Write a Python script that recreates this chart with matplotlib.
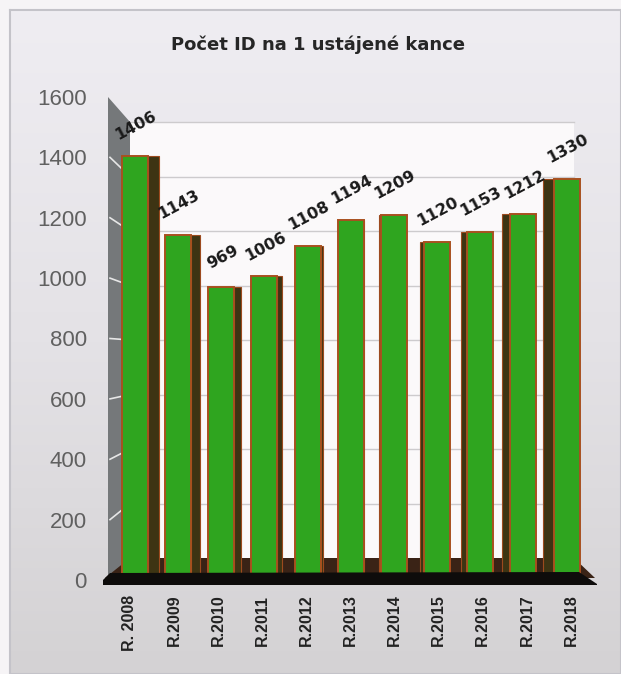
import numpy as np
import matplotlib.pyplot as plt
from matplotlib.colors import LinearSegmentedColormap
from matplotlib.patches import Polygon, Rectangle

# chart data
years = ['R. 2008', 'R.2009', 'R.2010', 'R.2011', 'R.2012', 'R.2013',
         'R.2014', 'R.2015', 'R.2016', 'R.2017', 'R.2018']
values = [1406, 1143, 969, 1006, 1108, 1194, 1209, 1120, 1153, 1212, 1330]
yticks = [0, 200, 400, 600, 800, 1000, 1200, 1400, 1600]
title = 'Počet ID na 1 ustájené kance'

W, H = 621, 674
# pixel layout of the pseudo 3d box
X0, DX = 135, 43.15            # centres of the bar faces
FX0, FDX = 130, 44.1           # category labels sit on the front edge
Y0, Y1 = 580, 97               # front scale, value 0 and 1600
BY0, BY1 = 558, 122            # back wall, value 0 and 1600
BACK_L, BACK_R = 130, 574
WALL_L = 108
VMAX = 1600


def front_y(v):
    return Y0 - (Y0 - Y1) * v / VMAX


def back_y(v):
    return BY0 - (BY0 - BY1) * v / VMAX


fig = plt.figure(figsize=(W / 100, H / 100), dpi=100)

# background layer in pixel coordinates
bg = fig.add_axes([0, 0, 1, 1], zorder=0)
bg.set_xlim(0, W)
bg.set_ylim(H, 0)
bg.axis('off')
bg.add_patch(Rectangle((0, 0), W, H, color='#f6f4f6'))
cm = LinearSegmentedColormap.from_list('bgfade', ['#efedf2', '#e4e2e6', '#d4d2d4'])
bg.imshow(np.linspace(0, 1, 200).reshape(-1, 1), cmap=cm, aspect='auto',
          extent=(10, W, H, 10), zorder=1)
bg.plot([10, W, W, 10, 10], [10, 10, H, H, 10], color='#c4c3c9', lw=1.5, zorder=2)

# back wall with its gridlines
bg.add_patch(Polygon([(BACK_L, BY1), (BACK_R, BY1), (BACK_R, BY0), (BACK_L, BY0)],
                     closed=True, facecolor='#fbf9fa', edgecolor='none', zorder=3))
for v in yticks[1:]:
    bg.plot([BACK_L, BACK_R], [back_y(v), back_y(v)], color='#cdcbcd', lw=1, zorder=4)

# left wall
bg.add_patch(Polygon([(WALL_L, Y1), (BACK_L, BY1), (BACK_L, BY0), (WALL_L, Y0)],
                     closed=True, facecolor='#75787a', edgecolor='none', zorder=3))
for v in yticks[1:-1]:
    bg.plot([WALL_L + 2, BACK_L], [front_y(v), back_y(v)], color='#e6e6e6', lw=1.2, zorder=4)

# floor
bg.add_patch(Polygon([(BACK_L, BY0), (BACK_R, BY0), (595, Y0 - 2), (105, Y0 - 2)],
                     closed=True, facecolor='#3a2316', edgecolor='none', zorder=3))

bg.text(318, 45, title, ha='center', va='center', fontsize=13,
        fontweight='bold', color='#262626', zorder=5)

# bars
ax = fig.add_axes([100 / W, (H - Y0) / H, 500 / W, (Y0 - Y1) / H], zorder=1)
ax.patch.set_alpha(0)
ax.set_xlim((100 - X0) / DX, (600 - X0) / DX)
ax.set_ylim(0, VMAX)
for s in ax.spines.values():
    s.set_visible(False)

x = np.arange(len(values))
face_w = 26 / DX
side_w = 2.2 * np.abs(x - 5.2) / DX
side_x = np.where(x < 5.2, x + face_w / 2 + side_w / 2, x - face_w / 2 - side_w / 2)
ax.bar(side_x, values, width=side_w, color='#3d3413', edgecolor='#9c4a1e',
       linewidth=0.8, zorder=2)
ax.bar(x, values, width=face_w, color='#2fa51f', edgecolor='#a8501f',
       linewidth=1.4, zorder=3)

for i, v in enumerate(values):
    ax.annotate(str(v), (i, v), xytext=(1, 30), textcoords='offset pixels',
                rotation=28, ha='center', va='center', fontsize=11.5,
                fontweight='bold', color='#1a1a1a', zorder=5)

ax.set_yticks(yticks)
ax.set_yticklabels([str(t) for t in yticks], fontsize=16, color='#606060',
                   family=['Liberation Sans', 'DejaVu Sans'])
ax.set_xticks((FX0 + FDX * x - X0) / DX)
ax.set_xticklabels(years, rotation=90, fontsize=11.5, fontweight='bold',
                   color='#222222', family=['Liberation Sans', 'DejaVu Sans'])
ax.tick_params(axis='y', length=0, pad=9.5)
ax.tick_params(axis='x', length=0, pad=10.5)

# black front edge of the floor, drawn over the bar bottoms
fg = fig.add_axes([0, 0, 1, 1], zorder=2)
fg.set_xlim(0, W)
fg.set_ylim(H, 0)
fg.axis('off')
fg.add_patch(Polygon([(103, 585), (103, 580), (110, 573), (579, 572), (597, 584), (597, 585)],
                     closed=True, facecolor='#0e0c0b', edgecolor='none'))

fig.savefig('out.png', dpi=100)
